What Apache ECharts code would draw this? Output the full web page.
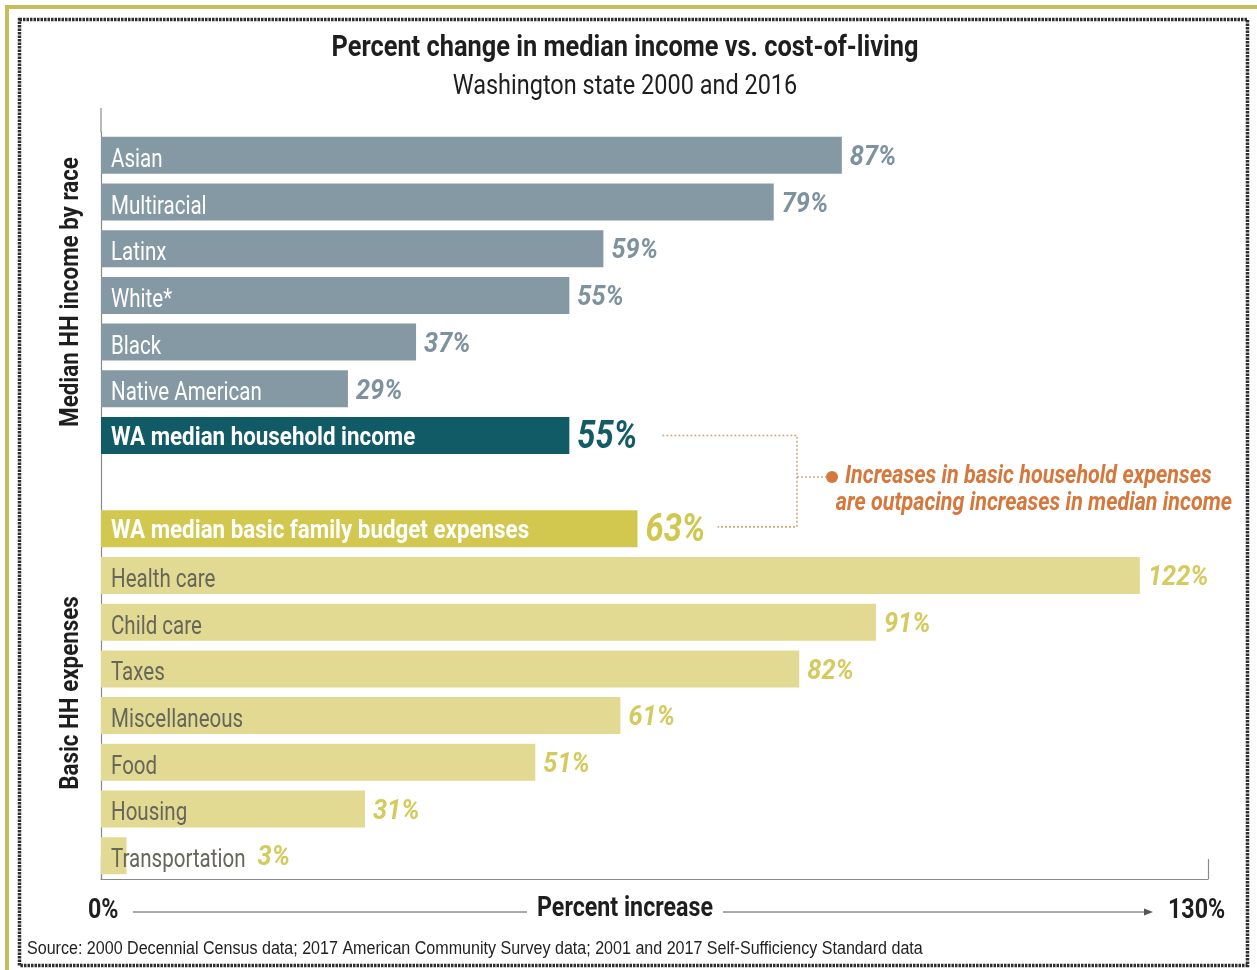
<!DOCTYPE html>
<html>
<head>
<meta charset="utf-8">
<script src="https://cdn.jsdelivr.net/npm/echarts@6/dist/echarts.min.js"></script>
<style>
  html, body { margin: 0; padding: 0; background: #ffffff; }
  #chart { width: 1257px; height: 970px; }
</style>
</head>
<body>
<div id="chart"></div>
<script>
// Median household income change by race, 2000 -> 2016 (percent)
const raceGroups = ['Asian', 'Multiracial', 'Latinx', 'White*', 'Black', 'Native American'];
const raceValues = [87, 79, 59, 55, 37, 29];

// Statewide totals
const incomeTotalName = 'WA median household income';
const incomeTotal = 55;
const budgetTotalName = 'WA median basic family budget expenses';
const budgetTotal = 63;

// Basic household expense categories (percent change)
const expenseItems = ['Health care', 'Child care', 'Taxes', 'Miscellaneous', 'Food', 'Housing', 'Transportation'];
const expenseValues = [122, 91, 82, 61, 51, 31, 3];

// Value axis range and its end labels
const axisMin = 0;
const axisMax = 130;
const axisEndLabels = ['0%', '130%'];

// Condensed look: Roboto squeezed horizontally
const FONT = 'Roboto, "DejaVu Sans", sans-serif';
const SQUEEZE = 0.86;

const palette = {
  race:    { bar: '#8599a4', text: '#ffffff', value: '#7d929e', weight: 'normal', nameSize: 26, nameSqueeze: 0.79, nameDy: 5, valueSize: 27, valueSqueeze: 0.94 },
  income:  { bar: '#115b66', text: '#ffffff', value: '#135c66', weight: 'bold',   nameSize: 26, nameSqueeze: 0.86, nameDy: 3, valueSize: 38, valueSqueeze: 0.86 },
  budget:  { bar: '#d3c84f', text: '#ffffff', value: '#d2c74e', weight: 'bold',   nameSize: 26, nameSqueeze: 0.86, nameDy: 3, valueSize: 38, valueSqueeze: 0.86 },
  expense: { bar: '#e2da92', text: '#67665a', value: '#d5ca5e', weight: 'normal', nameSize: 26, nameSqueeze: 0.79, nameDy: 5, valueSize: 27, valueSqueeze: 0.94 }
};

// Category list: race rows, income total, a spacer, budget total, expense rows
const categories = [];
const rows = [];
raceGroups.forEach((n, i) => { categories.push(n); rows.push({ v: raceValues[i], g: 'race' }); });
categories.push(incomeTotalName); rows.push({ v: incomeTotal, g: 'income' });
const incomeIndex = categories.length - 1;
categories.push(' '); rows.push({ v: null, g: null });
categories.push(budgetTotalName); rows.push({ v: budgetTotal, g: 'budget' });
const budgetIndex = categories.length - 1;
expenseItems.forEach((n, i) => { categories.push(n); rows.push({ v: expenseValues[i], g: 'expense' }); });

const measureCtx = document.createElement('canvas').getContext('2d');
function textWidth(text, font, squeeze) {
  measureCtx.font = font;
  return measureCtx.measureText(text).width * squeeze;
}

const nameFont = (g) => (palette[g].weight === 'bold' ? 'bold ' : '') + palette[g].nameSize + 'px ' + FONT;
const valueFont = (g) => 'italic bold ' + palette[g].valueSize + 'px ' + FONT;

const barData = rows.map((r) => (r.g === null ? { value: null } : { value: r.v, itemStyle: { color: palette[r.g].bar } }));
const labelData = rows.map((r, i) => [r.v === null ? 0 : r.v, i]);

function renderLabels(params, api) {
  const i = params.dataIndex;
  const r = rows[i];
  if (r.g === null) return null;
  const s = palette[r.g];
  const start = api.coord([axisMin, i]);
  const end = api.coord([r.v, i]);
  const nameX = start[0] + 10;
  const nameW = textWidth(categories[i], nameFont(r.g), s.nameSqueeze);
  // when the name runs past the bar end, the value follows the name
  const valueX = Math.max(end[0] + 8, nameX + nameW + 12);
  return {
    type: 'group',
    children: [
      {
        type: 'text', x: nameX, y: start[1] + s.nameDy, scaleX: s.nameSqueeze,
        style: { text: categories[i], fill: s.text, font: nameFont(r.g), textAlign: 'left', textVerticalAlign: 'middle' }
      },
      {
        type: 'text', x: valueX, y: start[1] + 3, scaleX: s.valueSqueeze,
        style: { text: r.v + '%', fill: s.value, font: valueFont(r.g), textAlign: 'left', textVerticalAlign: 'middle' }
      }
    ]
  };
}

const chart = echarts.init(document.getElementById('chart'), null, { renderer: 'canvas' });

chart.setOption({
  backgroundColor: '#ffffff',
  animation: false,
  grid: { left: 101, right: 49, top: 132, bottom: 91, containLabel: false },
  xAxis: {
    type: 'value',
    min: axisMin,
    max: axisMax,
    interval: axisMax - axisMin,
    splitLine: { show: false },
    axisLine: { show: true, lineStyle: { color: '#8a8a8a', width: 1.2 } },
    axisTick: { show: true, inside: true, length: 20, lineStyle: { color: '#8a8a8a', width: 1.2 } },
    axisLabel: { show: false }
  },
  yAxis: {
    type: 'category',
    data: categories,
    inverse: true,
    axisLine: { show: true, lineStyle: { color: '#8a8a8a', width: 1.2 } },
    axisTick: { show: false },
    axisLabel: { show: false },
    splitLine: { show: false }
  },
  series: [
    {
      name: 'bars',
      type: 'bar',
      barWidth: 37,
      data: barData,
      silent: true,
      z: 2
    },
    {
      name: 'labels',
      type: 'custom',
      renderItem: renderLabels,
      encode: { x: 0, y: 1 },
      data: labelData,
      clip: false,
      silent: true,
      z: 3
    }
  ]
});

// Connector between the two statewide totals, anchored on their bars
const pIncome = chart.convertToPixel({ gridIndex: 0 }, [incomeTotal, incomeIndex]);
const pBudget = chart.convertToPixel({ gridIndex: 0 }, [budgetTotal, budgetIndex]);
const pTop = chart.convertToPixel({ gridIndex: 0 }, [axisMin, 0]);
const bracketX = 797;
const midY = 477;
const noteColor = '#d6773c';
const dotLine = { stroke: '#dca27c', lineWidth: 1.6, lineDash: [2, 2] };
const dark = '#1e1e1e';

function txt(x, y, text, font, fill, align, extra) {
  return Object.assign({
    type: 'text', x: x, y: y, scaleX: SQUEEZE, silent: true,
    style: { text: text, fill: fill, font: font, textAlign: align, textVerticalAlign: 'middle' }
  }, extra || {});
}

chart.setOption({
  graphic: [
    // outer frame
    { type: 'rect', shape: { x: 7, y: 7, width: 1280, height: 1000 }, style: { fill: 'none', stroke: '#c6bd5c', lineWidth: 4 }, silent: true },
    { type: 'rect', shape: { x: 19.5, y: 19.5, width: 1228, height: 946 }, style: { fill: 'none', stroke: '#2e2e2e', lineWidth: 3.5, lineDash: [2.5, 1] }, silent: true },
    // titles
    txt(625, 49, 'Percent change in median income vs. cost-of-living', 'bold 29.5px ' + FONT, dark, 'center'),
    txt(625, 87, 'Washington state 2000 and 2016', '27.3px ' + FONT, dark, 'center'),
    // group names along the category axis
    txt(71, 292, 'Median HH income by race', 'bold 26px ' + FONT, dark, 'center', { rotation: Math.PI / 2 }),
    txt(71, 693, 'Basic HH expenses', 'bold 26px ' + FONT, dark, 'center', { rotation: Math.PI / 2 }),
    // axis line extension above the first row
    { type: 'line', shape: { x1: pTop[0], y1: 108, x2: pTop[0], y2: pTop[1] - 23 }, style: { stroke: '#8a8a8a', lineWidth: 1.2 }, silent: true },
    // value axis caption row
    txt(88, 911, axisEndLabels[0], 'bold 27px ' + FONT, dark, 'left'),
    txt(625, 909, 'Percent increase', 'bold 27px ' + FONT, dark, 'center'),
    txt(1168, 911, axisEndLabels[1], 'bold 27px ' + FONT, dark, 'left'),
    { type: 'line', shape: { x1: 133, y1: 912, x2: 527, y2: 912 }, style: { stroke: '#555555', lineWidth: 1 } },
    { type: 'line', shape: { x1: 723, y1: 912, x2: 1148, y2: 912 }, style: { stroke: '#555555', lineWidth: 1 } },
    { type: 'polygon', shape: { points: [[1153, 912], [1144, 908.5], [1144, 915.5]] }, style: { fill: '#555555' } },
    // source
    txt(27, 949, 'Source: 2000 Decennial Census data; 2017 American Community Survey data; 2001 and 2017 Self-Sufficiency Standard data', '18.7px "Liberation Sans", Arial, sans-serif', '#222222', 'left'),
    // annotation connector
    { type: 'polyline', shape: { points: [[pIncome[0] + 93, pIncome[1]], [bracketX, pIncome[1]], [bracketX, pBudget[1] - 2], [pBudget[0] + 80, pBudget[1] - 2]] }, style: Object.assign({ fill: 'none' }, dotLine) },
    { type: 'line', shape: { x1: bracketX, y1: midY, x2: 826, y2: midY }, style: dotLine },
    { type: 'circle', shape: { cx: 832, cy: midY, r: 6 }, style: { fill: noteColor } },
    txt(845, 477, 'Increases in basic household expenses', 'italic bold 25px ' + FONT, noteColor, 'left'),
    txt(1232, 504, 'are outpacing increases in median income', 'italic bold 25px ' + FONT, noteColor, 'right')
  ]
});
</script>
</body>
</html>
